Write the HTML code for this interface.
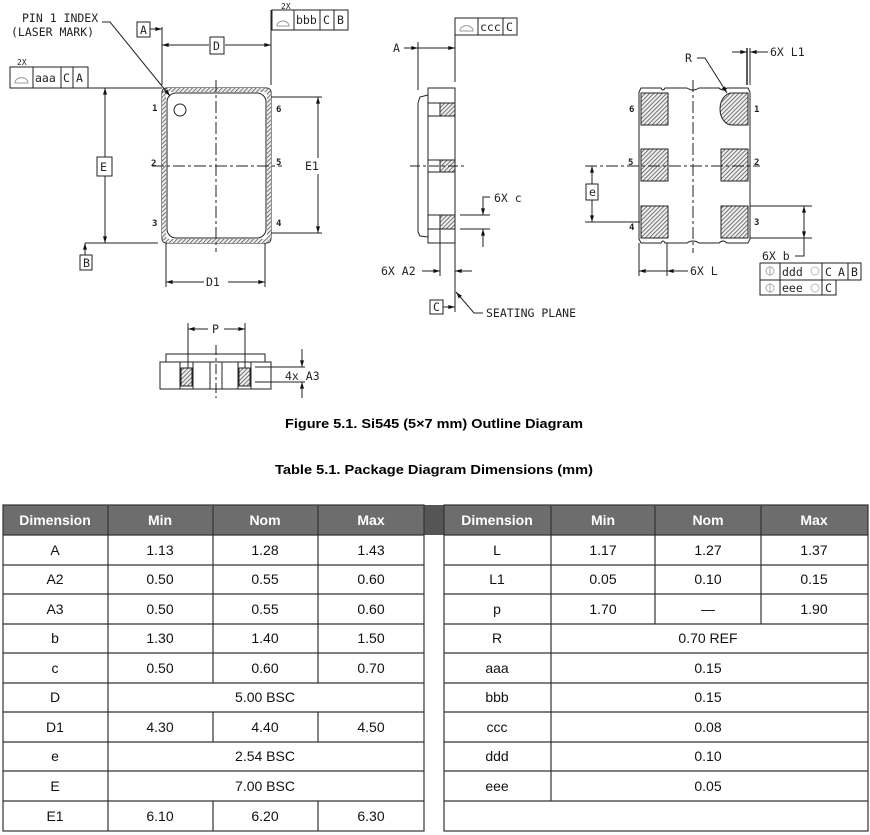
<!DOCTYPE html>
<html><head><meta charset="utf-8"><style>
html,body{margin:0;padding:0;background:#fff;}
svg{display:block;}
.d{font-family:"DejaVu Sans Mono","Liberation Mono",monospace;font-size:11.5px;fill:#222;}
.t{font-family:"Liberation Sans",sans-serif;font-size:14px;fill:#111;text-anchor:middle;}
.h{font-family:"Liberation Sans",sans-serif;font-size:14px;font-weight:bold;fill:#fff;text-anchor:middle;}
</style></head><body>
<svg width="870" height="835" viewBox="0 0 870 835" xmlns="http://www.w3.org/2000/svg">
<defs>
<pattern id="hx" width="3" height="3" patternUnits="userSpaceOnUse" patternTransform="rotate(45)">
<rect width="3" height="3" fill="#eee"/><line x1="0" y1="0" x2="0" y2="3" stroke="#444" stroke-width="1.4"/></pattern>
<marker id="a" viewBox="0 0 10 6" refX="10" refY="3" markerWidth="7" markerHeight="4" markerUnits="userSpaceOnUse" orient="auto"><path d="M0 0L10 3L0 6Z" fill="#111"/></marker>
</defs>
<g fill="none" stroke="#222" stroke-width="1">
<!-- TOP VIEW -->
<rect x="162" y="88" width="109" height="155" rx="4"/>
<rect x="164" y="90" width="105" height="151" rx="5" stroke="url(#hx)" stroke-width="4"/>
<rect x="167" y="93" width="99" height="145" rx="9"/>
<circle cx="180" cy="110" r="6"/>
<line x1="216" y1="80" x2="216" y2="252" stroke-dasharray="12,3,3,3"/>
<line x1="152" y1="166" x2="282" y2="166" stroke-dasharray="12,3,3,3"/>
<polyline points="102,22 110,22 170,96" marker-end="url(#a)"/>
<!-- E -->
<line x1="10" y1="88" x2="162" y2="88"/>
<line x1="85" y1="243" x2="158" y2="243"/>
<line x1="105" y1="157" x2="105" y2="88" marker-end="url(#a)"/>
<line x1="105" y1="176" x2="105" y2="243" marker-end="url(#a)"/>
<rect x="97" y="157" width="15" height="19" fill="#fff"/>
<rect x="80" y="255" width="12" height="15"/>
<line x1="85" y1="255" x2="85" y2="243" marker-end="url(#a)"/>
<!-- E1 -->
<line x1="271" y1="97" x2="322" y2="97"/>
<line x1="271" y1="233" x2="322" y2="233"/>
<line x1="318" y1="158" x2="318" y2="97" marker-end="url(#a)"/><line x1="318" y1="174" x2="318" y2="233" marker-end="url(#a)"/>
<!-- D -->
<line x1="162" y1="27" x2="162" y2="85"/>
<line x1="271" y1="10" x2="271" y2="85"/>
<line x1="209" y1="45" x2="162" y2="45" marker-end="url(#a)"/><line x1="225" y1="45" x2="271" y2="45" marker-end="url(#a)"/>
<rect x="210" y="37" width="14" height="17"/>
<rect x="137" y="22" width="13" height="15"/>
<line x1="150" y1="29" x2="162" y2="29" marker-end="url(#a)"/>
<!-- frames -->
<rect x="272" y="10" width="76" height="20"/>
<line x1="294" y1="10" x2="294" y2="30"/><line x1="320" y1="10" x2="320" y2="30"/><line x1="334" y1="10" x2="334" y2="30"/>
<path d="M277 26 A6 5 0 0 1 289 26 Z" stroke="#999"/>
<rect x="10" y="67" width="78" height="21"/>
<line x1="33" y1="67" x2="33" y2="88"/><line x1="61" y1="67" x2="61" y2="88"/><line x1="73" y1="67" x2="73" y2="88"/>
<path d="M15 83 A6 5 0 0 1 28 83 Z" stroke="#999"/>
<!-- D1 -->
<line x1="166" y1="243" x2="166" y2="287"/><line x1="265" y1="243" x2="265" y2="287"/>
<line x1="204" y1="282" x2="166" y2="282" marker-end="url(#a)"/><line x1="228" y1="282" x2="265" y2="282" marker-end="url(#a)"/>
<!-- SIDE VIEW -->
<rect x="428" y="88" width="27" height="155"/>
<path d="M428 95 L420 97 L418 103 L418 232 L420 236 L428 237"/>
<line x1="428" y1="103" x2="455" y2="103"/><line x1="428" y1="116" x2="455" y2="116"/>
<line x1="428" y1="160" x2="455" y2="160"/><line x1="428" y1="172" x2="455" y2="172"/>
<line x1="428" y1="215" x2="455" y2="215"/><line x1="428" y1="229" x2="455" y2="229"/>
<rect x="440" y="103" width="15" height="13" fill="url(#hx)"/>
<rect x="440" y="160" width="15" height="12" fill="url(#hx)"/>
<rect x="440" y="215" width="15" height="14" fill="url(#hx)"/>
<line x1="410" y1="166" x2="465" y2="166" stroke-dasharray="10,3,3,3"/>
<line x1="418" y1="42" x2="418" y2="90"/><line x1="455" y1="18" x2="455" y2="82"/>
<line x1="404" y1="48" x2="418" y2="48" marker-end="url(#a)"/>
<line x1="437" y1="48" x2="455" y2="48" marker-end="url(#a)"/>
<line x1="418" y1="48" x2="437" y2="48"/>
<rect x="455" y="18" width="62" height="17"/>
<line x1="478" y1="18" x2="478" y2="35"/><line x1="503" y1="18" x2="503" y2="35"/>
<path d="M460 31 A6 5 0 0 1 473 31 Z" stroke="#999"/>
<line x1="460" y1="215" x2="490" y2="215"/><line x1="460" y1="229" x2="490" y2="229"/>
<polyline points="490,197 483,197 483,215" marker-end="url(#a)"/><line x1="483" y1="247" x2="483" y2="229" marker-end="url(#a)"/>
<line x1="440" y1="229" x2="440" y2="276"/><line x1="455" y1="243" x2="455" y2="312"/>
<line x1="422" y1="271" x2="440" y2="271" marker-end="url(#a)"/><line x1="472" y1="271" x2="455" y2="271" marker-end="url(#a)"/>
<rect x="430" y="300" width="13" height="14"/><line x1="443" y1="307" x2="455" y2="307" marker-end="url(#a)"/>
<polyline points="483,313 474,313 456,292" marker-end="url(#a)"/>
<!-- BOTTOM VIEW -->
<path d="M641 88 L661 88 Q663 92 665 88 L687 88 Q693 92 699 88 L719 88 Q723 92 727 88 L748 88 L750 92 L750 239 L748 243 L727 243 Q723 239 719 243 L699 243 Q693 239 687 243 L665 243 Q663 239 661 243 L641 243 L639 239 L639 92 Z"/>
<rect x="641" y="93" width="27" height="32" fill="url(#hx)"/>
<rect x="641" y="149" width="27" height="32" fill="url(#hx)"/>
<rect x="641" y="206" width="27" height="32" fill="url(#hx)"/>
<path d="M748 93 L732 93 A12 16 0 0 0 732 125 L748 125 Z" fill="url(#hx)"/>
<rect x="721" y="149" width="27" height="32" fill="url(#hx)"/>
<rect x="721" y="206" width="27" height="32" fill="url(#hx)"/>
<line x1="693" y1="80" x2="693" y2="253" stroke-dasharray="12,3,3,3"/>
<line x1="585" y1="166" x2="760" y2="166" stroke-dasharray="12,3,3,3"/>
<line x1="585" y1="222" x2="640" y2="222"/>
<line x1="592" y1="184" x2="592" y2="166" marker-end="url(#a)"/><line x1="592" y1="200" x2="592" y2="222" marker-end="url(#a)"/>
<rect x="586" y="184" width="12" height="16"/>
<line x1="750" y1="206" x2="812" y2="206"/><line x1="750" y1="238" x2="812" y2="238"/>
<line x1="804" y1="222" x2="804" y2="206" marker-end="url(#a)"/>
<line x1="804" y1="222" x2="804" y2="238" marker-end="url(#a)"/>
<polyline points="804,238 804,256 795,256"/>
<rect x="760" y="263" width="101" height="17"/><rect x="760" y="280" width="76" height="15"/>
<line x1="780" y1="263" x2="780" y2="295"/><line x1="822" y1="263" x2="822" y2="295"/><line x1="848" y1="263" x2="848" y2="280"/>
<circle cx="770" cy="271" r="4" stroke="#aaa"/><line x1="770" y1="266" x2="770" y2="276" stroke="#aaa"/>
<circle cx="770" cy="288" r="4" stroke="#aaa"/><line x1="770" y1="283" x2="770" y2="293" stroke="#aaa"/>
<circle cx="815" cy="271" r="4" stroke="#bbb"/><circle cx="815" cy="288" r="4" stroke="#bbb"/>
<line x1="639" y1="243" x2="639" y2="276"/><line x1="667" y1="243" x2="667" y2="276"/>
<line x1="653" y1="271" x2="639" y2="271" marker-end="url(#a)"/>
<line x1="688" y1="271" x2="667" y2="271" marker-end="url(#a)"/>
<line x1="653" y1="271" x2="667" y2="271"/>
<line x1="747" y1="48" x2="747" y2="85" stroke-width="1.5"/><line x1="750" y1="48" x2="750" y2="85"/>
<line x1="732" y1="52" x2="747" y2="52" marker-end="url(#a)"/>
<line x1="768" y1="52" x2="750" y2="52" marker-end="url(#a)"/>
<polyline points="697,58 705,58 727,93" marker-end="url(#a)"/>
<!-- SMALL VIEW -->
<path d="M160 362 L160 389 L271 389 L271 362 L265 362 L265 354 L166 354 L166 362 Z"/>
<line x1="166" y1="362" x2="265" y2="362"/>
<line x1="180" y1="362" x2="180" y2="389"/><line x1="193" y1="362" x2="193" y2="389"/>
<line x1="210" y1="362" x2="210" y2="389"/><line x1="222" y1="362" x2="222" y2="389"/>
<line x1="238" y1="362" x2="238" y2="389"/><line x1="251" y1="362" x2="251" y2="389"/>
<rect x="181" y="368" width="11" height="18" fill="url(#hx)"/>
<rect x="239" y="368" width="11" height="18" fill="url(#hx)"/>
<line x1="216" y1="345" x2="216" y2="398" stroke-dasharray="10,3,3,3"/>
<line x1="188" y1="323" x2="188" y2="368"/><line x1="245" y1="323" x2="245" y2="368"/>
<line x1="208" y1="329" x2="188" y2="329" marker-end="url(#a)"/><line x1="224" y1="329" x2="245" y2="329" marker-end="url(#a)"/>
<line x1="255" y1="367" x2="305" y2="367"/><line x1="255" y1="382" x2="305" y2="382"/>
<line x1="302" y1="349" x2="302" y2="367" marker-end="url(#a)"/><line x1="302" y1="398" x2="302" y2="382" marker-end="url(#a)"/>
</g>
<g class="d">
<text x="22" y="22">PIN 1 INDEX</text><text x="11" y="36">(LASER MARK)</text>
<text x="140" y="34">A</text><text x="213" y="50">D</text><text x="100" y="171">E</text><text x="83" y="267">B</text>
<text x="305" y="170">E1</text><text x="206" y="286">D1</text>
<text x="281" y="9" font-size="8">2X</text><text x="17" y="65" font-size="8">2X</text>
<text x="296" y="24">bbb</text><text x="323" y="24">C</text><text x="337" y="24">B</text>
<text x="35" y="82">aaa</text><text x="63" y="82">C</text><text x="76" y="82">A</text>
<g font-size="9" font-weight="bold"><text x="152" y="111">1</text><text x="151" y="166">2</text><text x="152" y="226">3</text>
<text x="276" y="112">6</text><text x="276" y="165">5</text><text x="276" y="226">4</text>
<text x="629" y="112">6</text><text x="628" y="165">5</text><text x="629" y="230">4</text>
<text x="754" y="112">1</text><text x="754" y="165">2</text><text x="754" y="225">3</text></g>
<text x="393" y="52">A</text><text x="480" y="31">ccc</text><text x="506" y="31">C</text>
<text x="494" y="202">6X c</text><text x="381" y="275">6X A2</text><text x="433" y="311">C</text>
<text x="486" y="317">SEATING PLANE</text>
<text x="685" y="62">R</text><text x="770" y="56">6X L1</text><text x="589" y="196">e</text>
<text x="762" y="260">6X b</text><text x="690" y="275">6X L</text>
<text x="782" y="276">ddd</text><text x="825" y="276">C</text><text x="838" y="276">A</text><text x="851" y="276">B</text>
<text x="782" y="292">eee</text><text x="825" y="292">C</text>
<text x="212" y="333">P</text><text x="285" y="380">4x A3</text>
</g>
<text x="434" y="428" text-anchor="middle" font-family="Liberation Sans,sans-serif" font-size="13" font-weight="bold" textLength="298" lengthAdjust="spacingAndGlyphs">Figure 5.1.  Si545 (5×7 mm) Outline Diagram</text>
<text x="434" y="474" text-anchor="middle" font-family="Liberation Sans,sans-serif" font-size="13" font-weight="bold" textLength="318" lengthAdjust="spacingAndGlyphs">Table 5.1.  Package Diagram Dimensions (mm)</text>
<!-- TABLE -->
<rect x="3" y="505" width="865" height="30" fill="#6d6d6d"/>
<rect x="424" y="505" width="20" height="30" fill="#555"/>
<g stroke="#333" stroke-width="1.2" fill="none">
<rect x="3" y="505" width="421" height="326"/><rect x="444" y="505" width="424" height="326"/>
<line x1="108" y1="505" x2="108" y2="831"/>
<line x1="213" y1="505" x2="213" y2="683"/><line x1="318" y1="505" x2="318" y2="683"/>
<line x1="213" y1="712" x2="213" y2="742"/><line x1="318" y1="712" x2="318" y2="742"/>
<line x1="213" y1="801" x2="213" y2="831"/><line x1="318" y1="801" x2="318" y2="831"/>
<line x1="551" y1="505" x2="551" y2="801"/><line x1="655" y1="505" x2="655" y2="624"/><line x1="761" y1="505" x2="761" y2="624"/>
<path d="M3 535H424M3 565H424M3 594H424M3 624H424M3 653H424M3 683H424M3 712H424M3 742H424M3 771H424M3 801H424"/>
<path d="M444 535H868M444 565H868M444 594H868M444 624H868M444 653H868M444 683H868M444 712H868M444 742H868M444 771H868M444 801H868"/>
</g>
<g class="h"><text x="55" y="525">Dimension</text><text x="160" y="525">Min</text><text x="265" y="525">Nom</text><text x="371" y="525">Max</text>
<text x="497" y="525">Dimension</text><text x="603" y="525">Min</text><text x="708" y="525">Nom</text><text x="814" y="525">Max</text></g>
<g class="t">
<text x="55" y="555">A</text><text x="160" y="555">1.13</text><text x="265" y="555">1.28</text><text x="371" y="555">1.43</text>
<text x="55" y="584">A2</text><text x="160" y="584">0.50</text><text x="265" y="584">0.55</text><text x="371" y="584">0.60</text>
<text x="55" y="614">A3</text><text x="160" y="614">0.50</text><text x="265" y="614">0.55</text><text x="371" y="614">0.60</text>
<text x="55" y="643">b</text><text x="160" y="643">1.30</text><text x="265" y="643">1.40</text><text x="371" y="643">1.50</text>
<text x="55" y="673">c</text><text x="160" y="673">0.50</text><text x="265" y="673">0.60</text><text x="371" y="673">0.70</text>
<text x="55" y="702">D</text><text x="265" y="702">5.00 BSC</text>
<text x="55" y="732">D1</text><text x="160" y="732">4.30</text><text x="265" y="732">4.40</text><text x="371" y="732">4.50</text>
<text x="55" y="761">e</text><text x="265" y="761">2.54 BSC</text>
<text x="55" y="791">E</text><text x="265" y="791">7.00 BSC</text>
<text x="55" y="821">E1</text><text x="160" y="821">6.10</text><text x="265" y="821">6.20</text><text x="371" y="821">6.30</text>
<text x="497" y="555">L</text><text x="603" y="555">1.17</text><text x="708" y="555">1.27</text><text x="814" y="555">1.37</text>
<text x="497" y="584">L1</text><text x="603" y="584">0.05</text><text x="708" y="584">0.10</text><text x="814" y="584">0.15</text>
<text x="497" y="614">p</text><text x="603" y="614">1.70</text><text x="708" y="614">—</text><text x="814" y="614">1.90</text>
<text x="497" y="643">R</text><text x="708" y="643">0.70 REF</text>
<text x="497" y="673">aaa</text><text x="708" y="673">0.15</text>
<text x="497" y="702">bbb</text><text x="708" y="702">0.15</text>
<text x="497" y="732">ccc</text><text x="708" y="732">0.08</text>
<text x="497" y="761">ddd</text><text x="708" y="761">0.10</text>
<text x="497" y="791">eee</text><text x="708" y="791">0.05</text>
</g>
</svg>
</body></html>
